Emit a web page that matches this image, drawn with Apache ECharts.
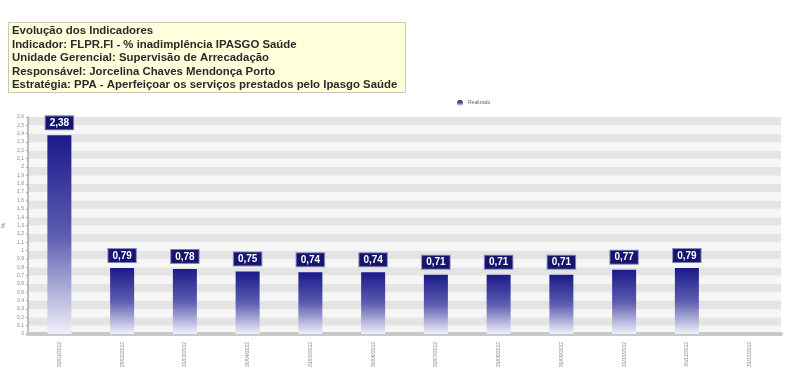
<!DOCTYPE html>
<html><head><meta charset="utf-8">
<script src="https://cdn.jsdelivr.net/npm/echarts@6/dist/echarts.min.js"></script>
<style>html,body{margin:0;padding:0;background:#fff}#c{width:799px;height:378px}</style>
</head><body><div id="c"></div>
<script>
const titleLines = [
  'Evolução dos Indicadores',
  'Indicador: FLPR.FI - % inadimplência IPASGO Saúde',
  'Unidade Gerencial: Supervisão de Arrecadação',
  'Responsável: Jorcelina Chaves Mendonça Porto',
  'Estratégia: PPA - Aperfeiçoar os serviços prestados pelo Ipasgo Saúde'
];
const categories = ['31/01/2012','29/02/2012','31/03/2012','30/04/2012','31/05/2012','30/06/2012','31/07/2012','31/08/2012','30/09/2012','31/10/2012','30/11/2012','31/12/2012'];
const realizado = [2.38, 0.79, 0.78, 0.75, 0.74, 0.74, 0.71, 0.71, 0.71, 0.77, 0.79, null];
const seriesName = 'Realizado';
const yMin = 0, yMax = 2.6, yStep = 0.1;

const fmt = v => {
  const r = Math.round(v * 100) / 100;
  return String(r).replace('.', ',');
};
const chart = echarts.init(document.getElementById('c'));
chart.setOption({
  animation: false,
  title: {
    text: titleLines.join('\n'),
    left: 8, top: 22,
    backgroundColor: '#ffffdc',
    borderColor: '#c8c8b0', borderWidth: 1,
    padding: [2, 8, 1, 4],
    textStyle: { fontFamily: 'Liberation Sans, Arial', fontSize: 11.4, fontWeight: 'bold', color: '#2a2a2a', lineHeight: 13.6 }
  },
  legend: {
    data: [seriesName], left: 452, top: 95,
    icon: 'circle', itemWidth: 6, itemHeight: 6, itemGap: 4,
    textStyle: { fontSize: 5, color: '#666', fontFamily: 'Liberation Sans, Arial' }
  },
  grid: { left: 28, right: 18, top: 117, bottom: 44, containLabel: false, outerBoundsMode: 'none' },
  xAxis: {
    type: 'category', data: categories,
    axisLine: { lineStyle: { color: '#c8c8c8', width: 4 } },
    axisTick: { show: false },
    axisLabel: { rotate: 90, fontSize: 5, color: '#888', margin: 8, fontFamily: 'Liberation Sans, Arial' }
  },
  yAxis: {
    type: 'value', min: yMin, max: yMax, interval: yStep,
    name: '%', nameLocation: 'middle', nameGap: 14, nameRotate: 90,
    nameTextStyle: { fontSize: 6, color: '#777' },
    axisLine: { show: true, lineStyle: { color: '#aaa', width: 1.5 } },
    axisTick: { show: true, length: 2, lineStyle: { color: '#aaa' } },
    axisLabel: { fontSize: 5, color: '#888', margin: 4, formatter: v => fmt(v), fontFamily: 'Liberation Sans, Arial' },
    splitLine: { show: false },
    splitArea: { show: true, areaStyle: { color: ['#f6f6f6', '#e4e4e4'] } }
  },
  series: [{
    name: seriesName, type: 'bar', data: realizado, barWidth: 24,
    itemStyle: {
      color: new echarts.graphic.LinearGradient(0, 0, 0, 1, [
        { offset: 0, color: '#1a1a8a' },
        { offset: 0.5, color: '#5c5cb0' },
        { offset: 1, color: '#f0f0fa' }
      ])
    },
    label: {
      show: true, position: 'top', distance: 6,
      formatter: p => fmt(p.value),
      color: '#fff', fontWeight: 'bold', fontSize: 10, fontFamily: 'Liberation Sans, Arial',
      backgroundColor: '#15156e', borderColor: '#8888bb', borderWidth: 1,
      padding: [2, 4, 1, 4]
    }
  }],
  color: ['#15156e']
});
</script></body></html>
